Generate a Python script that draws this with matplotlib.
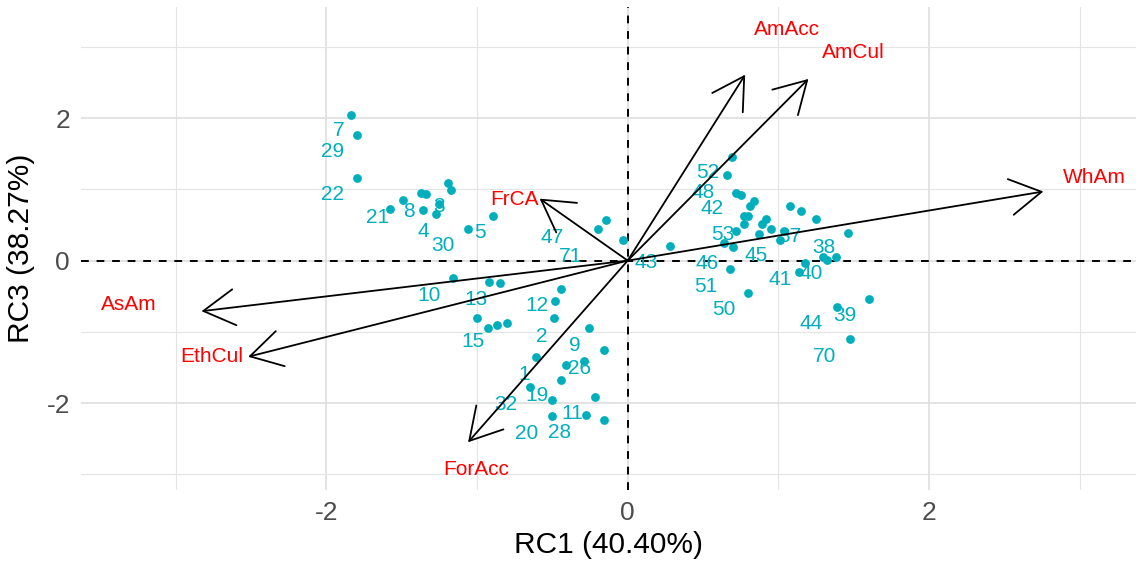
import matplotlib
matplotlib.use("Agg")
import matplotlib.pyplot as plt
from matplotlib.ticker import FixedLocator

plt.rcParams['font.family'] = ['Liberation Sans', 'DejaVu Sans']

# individual scores (RC1, RC3)
pt_x = [-1.84, -1.80, -1.80, -1.19, -1.17, -1.37, -1.34, -1.49, -1.58, -1.36,
        -1.25, -1.27, -1.06, -0.895,
        -1.16, -0.92, -0.85, -0.44, -0.48, -0.49, -1.00, -0.93, -0.87, -0.80,
        -0.26, -0.16, -0.61, -0.41, -0.29, -0.44, -0.65, -0.50, -0.22, -0.50,
        -0.28, -0.16,
        -0.146, -0.195, -0.03, 0.28,
        0.69, 0.66, 0.72, 0.755, 0.84, 0.81, 0.77, 0.80, 0.77, 0.72,
        0.89, 0.92, 0.95, 0.87, 0.64, 0.70, 0.68, 0.80, 1.08, 1.15,
        1.25, 1.04, 1.01, 1.46, 1.18, 1.14, 1.30, 1.32, 1.38, 1.60,
        1.39, 1.475]
pt_y = [2.05, 1.77, 1.16, 1.09, 0.99, 0.95, 0.94, 0.85, 0.73, 0.71,
        0.80, 0.66, 0.44, 0.62,
        -0.24, -0.30, -0.31, -0.40, -0.56, -0.80, -0.80, -0.95, -0.90, -0.88,
        -0.95, -1.25, -1.36, -1.46, -1.41, -1.67, -1.78, -1.96, -1.91, -2.18,
        -2.17, -2.24,
        0.57, 0.44, 0.29, 0.21,
        1.46, 1.20, 0.95, 0.92, 0.84, 0.76, 0.63, 0.62, 0.51, 0.42,
        0.51, 0.59, 0.45, 0.37, 0.25, 0.19, -0.12, -0.45, 0.77, 0.69,
        0.58, 0.41, 0.29, 0.39, -0.04, -0.16, 0.05, 0.01, 0.05, -0.54,
        -0.65, -1.10]

# repelled point labels
lab_text = ['7', '29', '22', '21', '8', '3', '4', '30', '5', '47', '71', '43',
            '10', '13', '12', '15', '2', '9', '26', '1', '19', '32', '11', '20', '28',
            '52', '48', '42', '53', '37', '38', '45', '46', '41', '40', '51', '50',
            '39', '44', '70']
lab_x = [-1.92, -1.96, -1.96, -1.66, -1.45, -1.25, -1.36, -1.23, -0.98, -0.50, -0.38, 0.12,
         -1.32, -1.01, -0.60, -1.03, -0.57, -0.35, -0.32, -0.69, -0.60, -0.81, -0.37, -0.67, -0.45,
         0.53, 0.50, 0.56, 0.63, 1.08, 1.30, 0.85, 0.53, 1.01, 1.22, 0.52, 0.64,
         1.44, 1.22, 1.31]
lab_y = [1.83, 1.53, 0.93, 0.61, 0.69, 0.76, 0.41, 0.21, 0.39, 0.32, 0.06, -0.03,
         -0.49, -0.55, -0.63, -1.13, -1.06, -1.19, -1.51, -1.60, -1.90, -2.02, -2.15, -2.42, -2.41,
         1.24, 0.96, 0.73, 0.36, 0.34, 0.18, 0.07, -0.04, -0.27, -0.18, -0.36, -0.68,
         -0.77, -0.88, -1.34]

# variable loadings (arrows)
var_names = ['AmAcc', 'AmCul', 'WhAm', 'AsAm', 'EthCul', 'FrCA', 'ForAcc']
var_x = [0.78, 1.20, 2.76, -2.83, -2.52, -0.585, -1.06]
var_y = [2.61, 2.55, 0.97, -0.71, -1.35, 0.87, -2.55]
var_lab_x = [1.06, 1.50, 3.10, -3.31, -2.76, -0.75, -1.005]
var_lab_y = [3.25, 2.92, 1.16, -0.62, -1.34, 0.86, -2.93]

teal = '#00AFBB'

fig = plt.figure(figsize=(11.43, 5.62), dpi=100)
W, H = 1143, 562
left, right, top, bottom = 81, 1136, 7, 490
ax = fig.add_axes([left / W, (H - bottom) / H, (right - left) / W, (bottom - top) / H])

ax.set_xlim(-3.63, 3.375)
ax.set_ylim(-3.22, 3.56)

for s in ax.spines.values():
    s.set_visible(False)
ax.xaxis.set_major_locator(FixedLocator([-2, 0, 2]))
ax.yaxis.set_major_locator(FixedLocator([-2, 0, 2]))
ax.xaxis.set_minor_locator(FixedLocator([-3, -1, 1, 3]))
ax.yaxis.set_minor_locator(FixedLocator([-3, -1, 1, 3]))
ax.set_xticklabels(['-2', '0', '2'])
ax.set_yticklabels(['-2', '0', '2'])
ax.tick_params(which='both', length=0)
ax.tick_params(axis='both', labelsize=19, labelcolor='#4D4D4D', pad=8)
ax.grid(True, which='major', color='#DEDEDE', lw=1.2)
ax.grid(True, which='minor', color='#E4E4E4', lw=0.8)
ax.set_axisbelow(True)

ax.axhline(0, color='black', lw=1.4, ls=(0, (4, 4)), zorder=1)
ax.axvline(0, color='black', lw=1.4, ls=(0, (4, 4)), zorder=1)

ax.scatter(pt_x, pt_y, s=40, color=teal, zorder=2, linewidths=0)
for t, x, y in zip(lab_text, lab_x, lab_y):
    ax.text(x, y, t, color=teal, fontsize=15, ha='center', va='center', zorder=3)

for name, x, y, lx, ly in zip(var_names, var_x, var_y, var_lab_x, var_lab_y):
    ax.annotate('', xy=(x, y), xytext=(0, 0),
                arrowprops=dict(arrowstyle='->,head_length=22.5,head_width=13',
                                mutation_scale=1, color='black', lw=1.3,
                                shrinkA=0, shrinkB=0), zorder=4)
    ax.text(lx, ly, name, color='red', fontsize=15, ha='center', va='center', zorder=5)

ax.set_xlabel('RC1 (40.40%)', fontsize=21.5, labelpad=4)
ax.set_ylabel('RC3 (38.27%)', fontsize=21.5, labelpad=8)

fig.savefig('out.png', dpi=100)
